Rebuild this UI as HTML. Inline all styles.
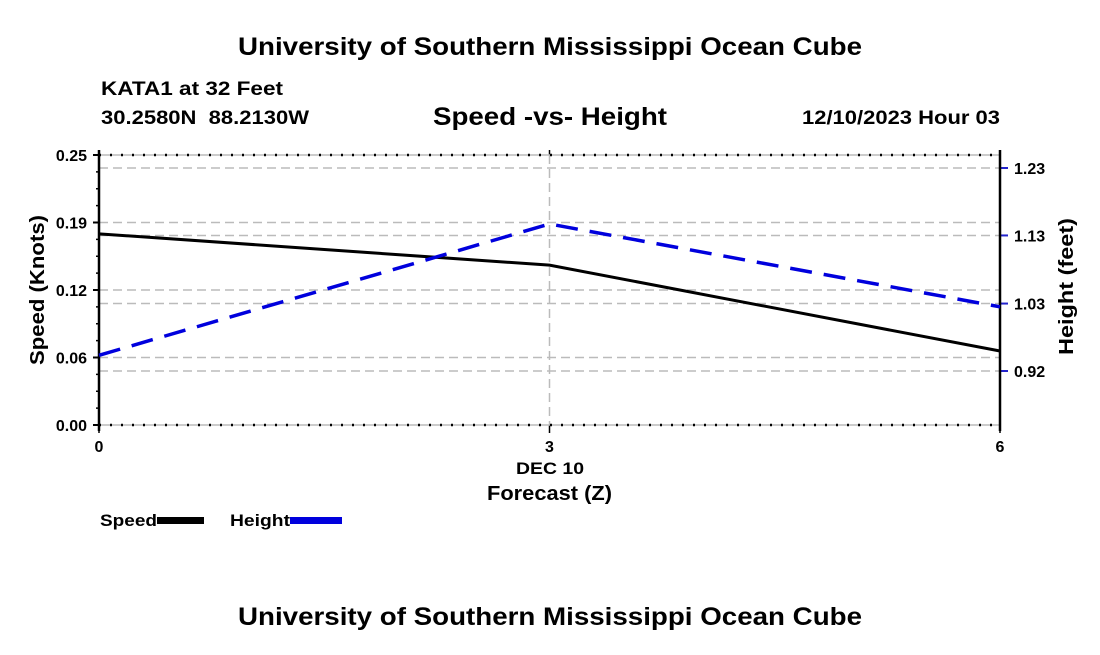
<!DOCTYPE html>
<html><head><meta charset="utf-8"><style>
body{margin:0;background:#fff;width:1100px;height:650px;overflow:hidden;font-family:"Liberation Sans",Arial,sans-serif}
svg text{font-family:"Liberation Sans",Arial,sans-serif;font-weight:bold;fill:#000}
</style></head><body>
<svg id="chart" width="1100" height="650">
<text x="238" y="55" font-size="25" textLength="624" lengthAdjust="spacingAndGlyphs">University of Southern Mississippi Ocean Cube</text>
<text x="101" y="95" font-size="19" textLength="182" lengthAdjust="spacingAndGlyphs">KATA1 at 32 Feet</text>
<text x="101" y="124" font-size="19" textLength="208" lengthAdjust="spacingAndGlyphs" xml:space="preserve">30.2580N  88.2130W</text>
<text x="433" y="125" font-size="25" textLength="234" lengthAdjust="spacingAndGlyphs">Speed -vs- Height</text>
<text x="802" y="124" font-size="19" textLength="198" lengthAdjust="spacingAndGlyphs">12/10/2023 Hour 03</text>
<g id="grid"></g>
<g id="axes"></g>
<g id="series"></g>
<text x="44" y="365" font-size="20" textLength="150" lengthAdjust="spacingAndGlyphs" transform="rotate(-90 44 365)">Speed (Knots)</text>
<text x="1073" y="355" font-size="20" textLength="137" lengthAdjust="spacingAndGlyphs" transform="rotate(-90 1073 355)">Height (feet)</text>
<text x="516" y="474" font-size="17" textLength="68" lengthAdjust="spacingAndGlyphs">DEC 10</text>
<text x="487" y="500" font-size="20" textLength="125" lengthAdjust="spacingAndGlyphs">Forecast (Z)</text>
<g>
<text x="100" y="526" font-size="17" textLength="57" lengthAdjust="spacingAndGlyphs">Speed</text>
<rect x="157" y="517" width="47" height="7" fill="#000"/>
<text x="230" y="526" font-size="17" textLength="60" lengthAdjust="spacingAndGlyphs">Height</text>
<rect x="290" y="517" width="52" height="7" fill="#0000dd"/>
</g>
<text x="238" y="625" font-size="25" textLength="624" lengthAdjust="spacingAndGlyphs">University of Southern Mississippi Ocean Cube</text>
</svg>
<script>
const hours = [0, 3, 6];
const speedValues = [0.177, 0.148, 0.0685];
const heightValues = [0.944, 1.1445, 1.018];
const leftTickValues = [0, 0.0625, 0.125, 0.1875, 0.25];
const leftTickLabels = ["0.00", "0.06", "0.12", "0.19", "0.25"];
const rightTickValues = [0.92, 1.023, 1.127, 1.23];
const rightTickLabels = ["0.92", "1.03", "1.13", "1.23"];
const xTickValues = [0, 3, 6];
const xTickLabels = ["0", "3", "6"];

const L=99,R=1000,T=155,B=425;
const NS="http://www.w3.org/2000/svg";
const xS=v=>L+(v-0)/(6-0)*(R-L);
const yL=v=>B-(v-0)/(0.25-0)*(B-T);
const yR=v=>371-(v-0.92)/(1.23-0.92)*203;
function mk(tag,attrs,parent){const e=document.createElementNS(NS,tag);for(const k in attrs)e.setAttribute(k,attrs[k]);parent.appendChild(e);return e;}
const grid=document.getElementById('grid'),axes=document.getElementById('axes'),series=document.getElementById('series');

leftTickValues.forEach((v,i)=>{
  const y=yL(v);
  if(i>0&&i<leftTickValues.length-1){const g=mk('line',{x1:L,x2:R,y1:y,y2:y,stroke:'#bbb','stroke-width':1.5,'stroke-dasharray':'9 5'},grid);
  
  }
  const t=mk('line',{x1:L-6,x2:L,y1:y,y2:y,stroke:'#000','stroke-width':2},axes);
  
  
  const tx=mk('text',{x:L-12,y:y+6,'text-anchor':'end','font-size':16},axes);tx.textContent=leftTickLabels[i];
  
  
});
for(let k=1;k<16;k++){if(k%4===0)continue;const y=yL(k*0.015625);mk('line',{x1:L-3,x2:L,y1:y,y2:y,stroke:'#000','stroke-width':1.5},axes);}
rightTickValues.forEach((v,i)=>{
  const y=yR(v);
  const g=mk('line',{x1:L,x2:R,y1:y,y2:y,stroke:'#bbb','stroke-width':1.5,'stroke-dasharray':'9 5'},grid);
  
  
  const t=mk('line',{x1:R,x2:R+8,y1:y,y2:y,stroke:'#22c','stroke-width':2},axes);
  
  
  const tx=mk('text',{x:R+14,y:y+6,'font-size':16},axes);tx.textContent=rightTickLabels[i];
  
  
});
xTickValues.forEach((v,i)=>{
  const x=xS(v);
  if(i===1){const g=mk('line',{x1:x,x2:x,y1:T,y2:B,stroke:'#bbb','stroke-width':1.5,'stroke-dasharray':'9 5'},grid);
  
  }
  mk('line',{x1:x,x2:x,y1:B,y2:B+8,stroke:'#000','stroke-width':1.5},axes);
  mk('line',{x1:x,x2:x,y1:T-5,y2:T,stroke:'#000','stroke-width':1.5},axes);
  const tx=mk('text',{x:x,y:B+27,'text-anchor':'middle','font-size':16},axes);tx.textContent=xTickLabels[i];
  
  
});
[T,B].forEach(y=>{mk('line',{x1:L,x2:R,y1:y,y2:y,stroke:'#bbb','stroke-width':1.5},axes);
mk('line',{x1:L,x2:R,y1:y,y2:y,stroke:'#000','stroke-width':2.5,'stroke-dasharray':'2 9'},axes);});
mk('line',{x1:L,x2:L,y1:T-5,y2:B+6,stroke:'#000','stroke-width':2.5},axes);
mk('line',{x1:R,x2:R,y1:T-5,y2:B+6,stroke:'#000','stroke-width':2.5},axes);

const sp=mk('polyline',{points:hours.map((h,i)=>xS(h)+','+yL(speedValues[i])).join(' '),fill:'none',stroke:'#000','stroke-width':3},series);


const hl=mk('polyline',{points:hours.map((h,i)=>xS(h)+','+yR(heightValues[i])).join(' '),fill:'none',stroke:'#0000dd','stroke-width':3.5,'stroke-dasharray':'22 12'},series);


</script>
</body></html>
